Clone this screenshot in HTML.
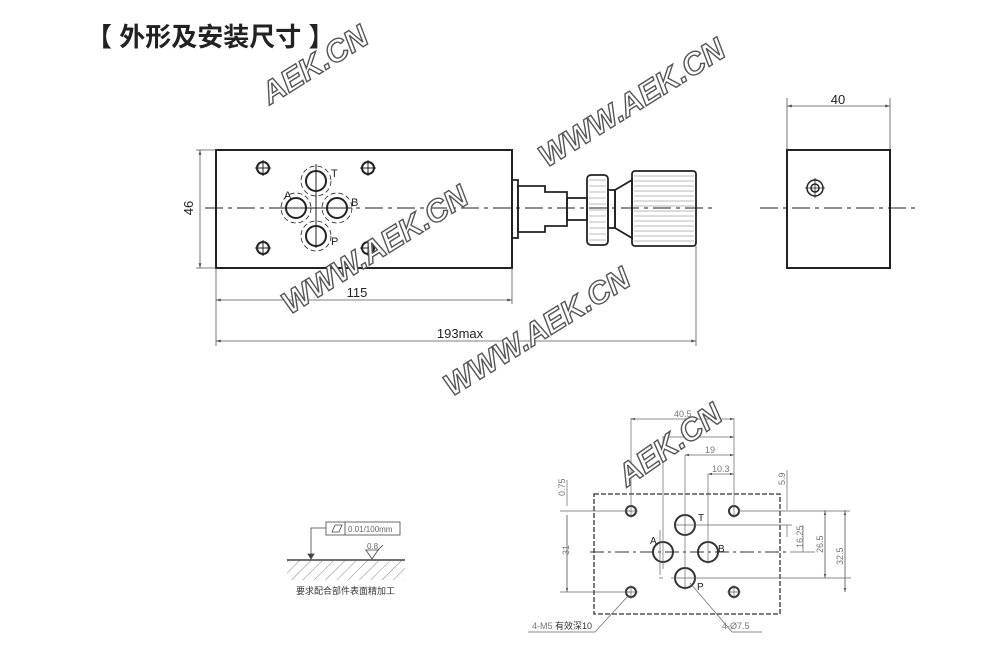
<!DOCTYPE html>
<html><head><meta charset="utf-8"><style>
html,body{margin:0;padding:0;background:#fff;width:1000px;height:656px;overflow:hidden}
svg{display:block}
text{font-family:"Liberation Sans","Noto Sans CJK SC",sans-serif}
.wm{font-family:"Liberation Sans",sans-serif;font-weight:bold;font-style:italic;font-size:31px;fill:#fff;stroke:#555;stroke-width:1.4}
</style></head><body>
<svg width="1000" height="656" viewBox="0 0 1000 656" xmlns="http://www.w3.org/2000/svg">
<defs>
<pattern id="h" width="8" height="8" patternUnits="userSpaceOnUse" patternTransform="rotate(45)"><line x1="0" y1="0" x2="0" y2="8" stroke="#888" stroke-width="1"/></pattern>
<marker id="a" viewBox="0 0 10 10" refX="10" refY="5" markerWidth="6" markerHeight="6" orient="auto-start-reverse"><path d="M0,2 L10,5 L0,8z" fill="#555"/></marker>
</defs>
<text x="86" y="46" font-size="26" font-weight="bold" fill="#222">【 外形及安装尺寸 】</text>

<g stroke="#222" fill="none">
<rect x="216" y="150" width="296" height="118" stroke-width="2"/>
<line x1="205" y1="208" x2="712" y2="208" stroke-width="1" stroke-dasharray="18,5,4,5"/>
<g stroke-width="2">
<circle cx="263" cy="168" r="6"/><circle cx="368" cy="168" r="6"/><circle cx="263" cy="248" r="6"/><circle cx="368" cy="248" r="6"/>
<circle cx="316" cy="181" r="10"/><circle cx="296" cy="208" r="10"/><circle cx="337" cy="208" r="10"/><circle cx="316" cy="236" r="10"/>
</g>
<g stroke-width="1">
<path d="M255 168h16M263 160v16M360 168h16M368 160v16M255 248h16M263 240v16M360 248h16M368 240v16"/>
<path d="M316 164v84M282 208h70"/>
</g>
<g stroke-width="0.8" stroke-dasharray="5,3">
<circle cx="316" cy="181" r="15"/><circle cx="296" cy="208" r="15"/><circle cx="337" cy="208" r="15"/><circle cx="316" cy="236" r="15"/>
</g>
<g stroke-width="1.8">
<rect x="512" y="180" width="6" height="58"/>
<path d="M518 186h27v6h22v34h-22v6h-27z"/>
<rect x="567" y="198" width="20" height="22"/>
<rect x="587" y="175" width="21" height="70" rx="4"/>
<rect x="608" y="190" width="7" height="38"/>
<path d="M615 190l17-10v58l-17-10z"/>
<rect x="632" y="171" width="64" height="75" rx="3"/>
</g>
<g stroke-width="0.5" stroke="#777">
<path d="M634 176h60M634 181h60M634 186h60M634 191h60M634 196h60M634 201h60M634 206h60M634 211h60M634 216h60M634 221h60M634 226h60M634 231h60M634 236h60M634 241h60"/>
<path d="M589 180h17M589 186h17M589 192h17M589 198h17M589 204h17M589 210h17M589 216h17M589 222h17M589 228h17M589 234h17M589 240h17"/>
</g>
<g stroke="#555" stroke-width="0.8">
<path d="M216 268v78M512 268v36M696 246v100M196 150h20M196 268h20"/>
<line x1="200" y1="150" x2="200" y2="268" marker-start="url(#a)" marker-end="url(#a)"/>
<line x1="216" y1="300" x2="512" y2="300" marker-start="url(#a)" marker-end="url(#a)"/>
<line x1="216" y1="341" x2="696" y2="341" marker-start="url(#a)" marker-end="url(#a)"/>
<path d="M787 150v-52M890 150v-52"/>
<line x1="787" y1="106" x2="890" y2="106" marker-start="url(#a)" marker-end="url(#a)"/>
</g>
<rect x="787" y="150" width="103" height="118" stroke-width="2"/>
<line x1="760" y1="208" x2="918" y2="208" stroke-width="1" stroke-dasharray="18,5,4,5"/>
<circle cx="815" cy="188" r="8" stroke-width="1.5"/><circle cx="815" cy="188" r="4" stroke-width="1.5"/>
<path d="M805 188h20M815 178v20" stroke-width="0.8"/>
</g>
<g font-size="13" fill="#222">
<text x="284" y="199" font-size="11">A</text><text x="331" y="177" font-size="11">T</text><text x="351" y="206" font-size="11">B</text><text x="331" y="245" font-size="11">P</text>
<text x="357" y="297" text-anchor="middle">115</text>
<text x="460" y="338" text-anchor="middle">193max</text>
<text x="838" y="104" text-anchor="middle">40</text>
<text x="193" y="208" text-anchor="middle" transform="rotate(-90 193 208)">46</text>
</g>

<g stroke="#444" fill="none" stroke-width="0.8">
<rect x="287" y="560" width="118" height="20" fill="url(#h)" stroke="none"/>
<line x1="287" y1="560" x2="405" y2="560" stroke-width="1.5"/>
<rect x="326" y="522" width="74" height="13"/><line x1="345" y1="522" x2="345" y2="535"/>
<path d="M332 532l3-7h7l-3 7z"/>
<path d="M326 528h-15v28" /><path d="M308 554l3 5 3-5z" fill="#444"/>
<path d="M365 550h14M366 550l6 9 6-9M378 550l5-5"/>
</g>
<g fill="#666" font-size="8"><text x="348" y="532">0.01/100mm</text><text x="367" y="549">0.8</text></g>
<text x="296" y="594" font-size="9" fill="#333">要求配合部件表面精加工</text>

<g stroke="#333" fill="none">
<rect x="594" y="494" width="186" height="120" stroke-dasharray="5,2" stroke-width="1.3"/>
<line x1="590" y1="552" x2="790" y2="552" stroke-dasharray="14,4,3,4" stroke-width="1"/>
<g stroke-width="2"><circle cx="631" cy="511" r="5"/><circle cx="734" cy="511" r="5"/><circle cx="631" cy="592" r="5"/><circle cx="734" cy="592" r="5"/>
<circle cx="685" cy="525" r="10"/><circle cx="663" cy="552" r="10"/><circle cx="708" cy="552" r="10"/><circle cx="685" cy="578" r="10"/></g>
<g stroke-width="0.7" stroke="#666">
<path d="M631 418v100M734 418v100M663 436v133M685 455v135M708 474v90"/>
<path d="M624 511h14M624 592h14M727 592h14M631 585v14M734 585v14M738 511h112M675 525h117M671 578h180M663 578h-4M660 530v45M694 578h120"/>
<line x1="631" y1="419" x2="734" y2="419" marker-start="url(#a)" marker-end="url(#a)"/>
<line x1="663" y1="437" x2="734" y2="437" marker-end="url(#a)"/>
<line x1="685" y1="455" x2="734" y2="455" marker-start="url(#a)" marker-end="url(#a)"/>
<line x1="708" y1="474" x2="734" y2="474" marker-start="url(#a)" marker-end="url(#a)"/>
<path d="M787 470v40M787 525v12M803 552v-27M825 510v68M845 510v82M567 480v26M567 515v77M560 511h70M560 592h70M790 552h25"/>
<line x1="825" y1="511" x2="825" y2="578" marker-start="url(#a)" marker-end="url(#a)"/>
<line x1="845" y1="511" x2="845" y2="592" marker-start="url(#a)" marker-end="url(#a)"/>
<line x1="567" y1="515" x2="567" y2="592" marker-end="url(#a)"/>
<path d="M595 632l33-36M762 632h-30l-42-49M528 632h67"/>
</g>
</g>
<g font-size="10" fill="#222"><text x="698" y="521">T</text><text x="650" y="544">A</text><text x="718" y="552">B</text><text x="697" y="590">P</text></g>
<g font-size="9" fill="#777">
<text x="674" y="417">40.5</text><text x="705" y="453">19</text><text x="712" y="472">10.3</text>
<text x="532" y="629">4-M5 <tspan fill="#333">有效深10</tspan></text><text x="722" y="629">4-Ø7.5</text>
<text x="565" y="496" transform="rotate(-90 565 496)">0.75</text>
<text x="569" y="555" transform="rotate(-90 569 555)">31</text>
<text x="785" y="485" transform="rotate(-90 785 485)">5.9</text>
<text x="803" y="548" transform="rotate(-90 803 548)">16.25</text>
<text x="823" y="553" transform="rotate(-90 823 553)">26.5</text>
<text x="843" y="565" transform="rotate(-90 843 565)">32.5</text>
</g>

<text class="wm" x="315" y="75" text-anchor="middle" transform="rotate(-32 315 65)">AEK.CN</text>
<text class="wm" x="632" y="113" text-anchor="middle" transform="rotate(-32 632 103)">WWW.AEK.CN</text>
<text class="wm" x="375" y="260" text-anchor="middle" transform="rotate(-32 375 250)">WWW.AEK.CN</text>
<text class="wm" x="537" y="342" text-anchor="middle" transform="rotate(-32 537 332)">WWW.AEK.CN</text>
<text class="wm" x="670" y="455" text-anchor="middle" transform="rotate(-35 670 445)">AEK.CN</text>
</svg>
</body></html>
